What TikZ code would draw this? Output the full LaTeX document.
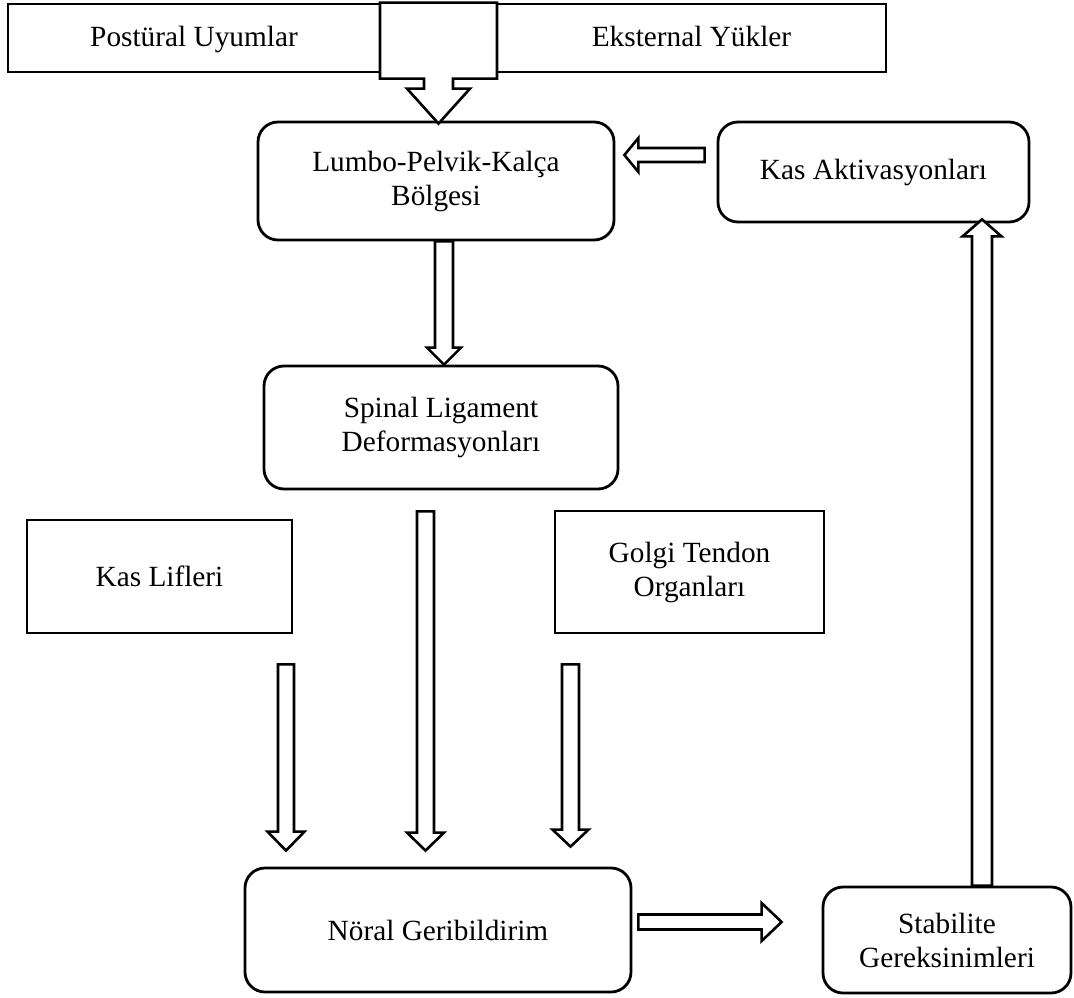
\documentclass[tikz,border=0pt]{standalone}
\usepackage{fontspec}
\setmainfont{Liberation Serif}
\usetikzlibrary{calc}
\tikzset{
  base/.style={draw=black, line width=2.8pt, fill=white, align=center, inner sep=0pt,
    font=\fontsize{29.3}{34}\selectfont},
  sqbox/.style={base},
  topbox/.style={base, text height=22pt, text depth=4pt},
  rbox/.style={base, rounded corners=20pt},
  barrow/.style={draw=black, line width=2.6pt, fill=white, line join=miter},
}
\newcommand\barr[5]{%
  \path ($(#2)!#5!(#1)$) coordinate (bh);
  \draw[barrow] ($(#1)!#3!90:(#2)$) -- ($(bh)!#3!90:(#2)$) -- ($(bh)!#4!90:(#2)$) -- (#2)
    -- ($(bh)!#4!-90:(#2)$) -- ($(bh)!#3!-90:(#2)$) -- ($(#1)!#3!-90:(#2)$) -- cycle;}
\begin{document}
\begin{tikzpicture}[x=1pt,y=-1pt]
\useasboundingbox (0,0) rectangle (1074,998);
\fill[white] (0,0) rectangle (1074,998);
% boxes
\node[topbox, minimum width=372pt, minimum height=68pt] (post) at (194,38) {Postüral Uyumlar};
\node[topbox, minimum width=389pt, minimum height=68pt] (ext) at (691.5,38) {Eksternal Yükler};
\node[rbox, minimum width=356pt, minimum height=118pt] (lumbo) at (436,181) {Lumbo-Pelvik-Kalça\\Bölgesi};
\node[rbox, minimum width=311pt, minimum height=100pt] (kasakt) at (873.5,172) {Kas Aktivasyonları};
\node[rbox, minimum width=354pt, minimum height=123pt] (spinal) at (441,427.5) {Spinal Ligament\\Deformasyonları};
\node[sqbox, minimum width=265pt, minimum height=113pt] (kaslif) at (159.5,576.5) {Kas Lifleri};
\node[sqbox, minimum width=269pt, minimum height=122pt] (golgi) at (689.5,572) {Golgi Tendon\\Organları};
\node[rbox, minimum width=386pt, minimum height=124pt] (noral) at (438,930) {Nöral Geribildirim};
\node[rbox, minimum width=248pt, minimum height=106pt] (stab) at (947,940) {Stabilite\\Gereksinimleri};
% top combined arrow
\coordinate (tA) at ($(post.north east)!0.5!(ext.north west)$);
\draw[barrow] let \p1=(tA), \p2=(tA |- lumbo.north) in
  (\x1-58.5pt,\y1) -- (\x1+58.5pt,\y1) -- (\x1+58.5pt,\y1-76pt) -- (\x1+14.5pt,\y1-76pt)
  -- (\x1+14.5pt,\y1-86pt) -- (\x1+31.5pt,\y1-86pt) -- (\x1,\y2-3pt)
  -- (\x1-31.5pt,\y1-86pt) -- (\x1-14.5pt,\y1-86pt) -- (\x1-14.5pt,\y1-76pt)
  -- (\x1-58.5pt,\y1-76pt) -- cycle;
% connectors
\coordinate (a1t) at ($(lumbo.south)+(8,0)$);
\coordinate (a1h) at (a1t |- spinal.north);
\barr{a1t}{a1h}{9pt}{17pt}{17pt}
\coordinate (a2t) at ($(kasakt.west)+(-12,-17)$);
\coordinate (a2h) at ($(a2t -| lumbo.east)+(9,0)$);
\barr{a2t}{a2h}{7pt}{17pt}{14pt}
\coordinate (a3t) at ($(stab.north)+(35,0)$);
\coordinate (a3h) at ($(a3t |- kasakt.south)+(0,-4)$);
\barr{a3t}{a3h}{10pt}{19.5pt}{17pt}
\coordinate (a4t) at ($(noral.east)+(6,-8)$);
\coordinate (a4h) at ($(a4t -| stab.west)+(-40,0)$);
\barr{a4t}{a4h}{7.5pt}{19pt}{20pt}
\coordinate (a5t) at ($(kaslif.south)+(126.5,30)$);
\coordinate (a5h) at ($(a5t |- noral.north)+(0,-16)$);
\barr{a5t}{a5h}{8pt}{18.5pt}{19pt}
\coordinate (a6t) at ($(spinal.south)+(-15.5,21)$);
\coordinate (a6h) at ($(a6t |- noral.north)+(0,-16)$);
\barr{a6t}{a6h}{8.5pt}{18.5pt}{18pt}
\coordinate (a7t) at ($(golgi.south)+(-119,30)$);
\coordinate (a7h) at ($(a7t |- noral.north)+(0,-20)$);
\barr{a7t}{a7h}{8.5pt}{18pt}{17pt}
\end{tikzpicture}
\end{document}
